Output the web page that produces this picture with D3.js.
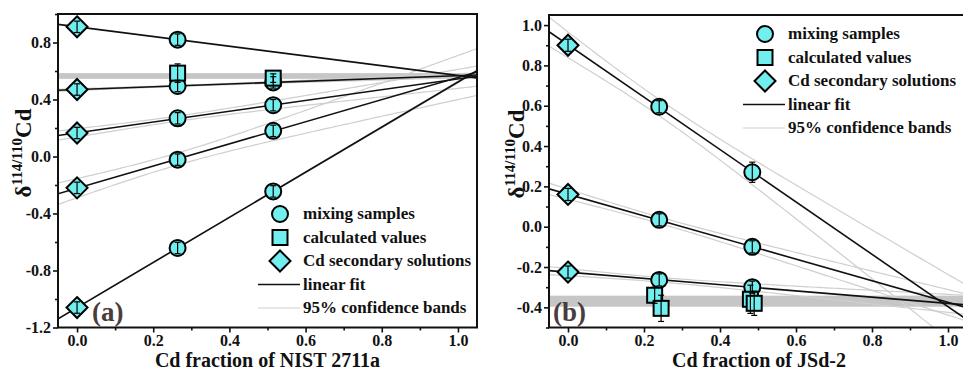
<!DOCTYPE html>
<html>
<head>
<meta charset="utf-8">
<script src="https://cdn.jsdelivr.net/npm/d3@7"></script>
<style>
  body { margin: 0; background: #fff; }
</style>
</head>
<body>
<script>
// ---- data ----
// panel (a): mixing with NIST 2711a
const fracA = [0, 0.264, 0.515];
const seriesA = [
  [0.91, 0.82, null],
  [0.47, 0.495, 0.52],
  [0.165, 0.268, 0.36],
  [-0.22, -0.022, 0.18],
  [-1.06, -0.642, -0.245]
];
const errA = 0.04;
const calcFracA = [0.264, 0.515];
const calcValA = [0.585, 0.55];
const calcErrA = [0.065, 0.03];
const refBandA = [0.545, 0.585];

// panel (b): mixing with JSd-2
const fracB = [0, 0.24, 0.485];
const seriesB = [
  [0.90, 0.595, 0.27],
  [0.16, 0.034, -0.10],
  [-0.225, -0.264, -0.30]
];
const errB = [
  [0.03, 0.03, 0.05],
  [0.03, 0.03, 0.03],
  [0.03, 0.03, 0.03]
];
const calcFracB = [0.228, 0.245, 0.48, 0.49];
const calcValB = [-0.34, -0.405, -0.36, -0.38];
const calcErrB = [0.04, 0.065, 0.07, 0.06];
const refBandB = [-0.397, -0.342];

const xTicks = [0, 0.2, 0.4, 0.6, 0.8, 1.0];
const xMinor = [0.1, 0.3, 0.5, 0.7, 0.9];
const yTicksA = [-1.2, -0.8, -0.4, 0, 0.4, 0.8];
const yMinorA = [-1.0, -0.6, -0.2, 0.2, 0.6, 1.0];
const yTicksB = [-0.4, -0.2, 0, 0.2, 0.4, 0.6, 0.8, 1.0];
const yMinorB = [-0.5, -0.3, -0.1, 0.1, 0.3, 0.5, 0.7, 0.9];

const legendLabels = ["mixing samples", "calculated values", "Cd secondary solutions", "linear fit", "95% confidence bands"];

const W = 963, H = 371;
const CYAN = "#72eeee";
const FONT = "'Liberation Serif', 'Times New Roman', serif";
const tTable = {1: 12.706, 2: 4.303, 3: 3.182};

const svg = d3.select("body").append("svg")
  .attr("width", W)
  .attr("height", H);

function txt(sel) {
  return sel.style("font-family", FONT).style("font-weight", "bold");
}

function fit(xs, ys) {
  const pts = xs.map((x, i) => [x, ys[i]]).filter(p => p[1] != null);
  const n = pts.length;
  const xbar = d3.mean(pts, p => p[0]);
  const ybar = d3.mean(pts, p => p[1]);
  const sxx = d3.sum(pts, p => (p[0] - xbar) ** 2);
  const sxy = d3.sum(pts, p => (p[0] - xbar) * (p[1] - ybar));
  const b = sxy / sxx;
  const a = ybar - b * xbar;
  const sse = d3.sum(pts, p => (p[1] - a - b * p[0]) ** 2);
  const s = n > 2 ? Math.sqrt(sse / (n - 2)) : 0;
  return { n, a, b, s, xbar, sxx };
}

function marker(g, shape, cx, cy) {
  if (shape === "circle") {
    g.append("circle").attr("cx", cx).attr("cy", cy).attr("r", 8);
  } else if (shape === "square") {
    g.append("rect").attr("x", cx - 7.5).attr("y", cy - 7.5).attr("width", 15).attr("height", 15);
  } else {
    g.append("path").attr("d", `M${cx},${cy - 10.5}L${cx + 10.5},${cy}L${cx},${cy + 10.5}L${cx - 10.5},${cy}Z`);
  }
}

function errBar(g, cx, y0, y1) {
  g.append("line").attr("x1", cx).attr("x2", cx).attr("y1", y0).attr("y2", y1);
  g.append("line").attr("x1", cx - 3).attr("x2", cx + 3).attr("y1", y0).attr("y2", y0);
  g.append("line").attr("x1", cx - 3).attr("x2", cx + 3).attr("y1", y1).attr("y2", y1);
}

function drawPanel(p) {
  const x = d3.scaleLinear().domain([-0.05, 1.05]).range([p.left, p.right]);
  const y = d3.scaleLinear().domain(p.yDomain).range([p.bottom, p.top]);

  const clipId = "clip-" + p.id;
  svg.append("clipPath").attr("id", clipId)
    .append("rect")
    .attr("x", p.left).attr("y", p.top)
    .attr("width", p.right - p.left).attr("height", p.bottom - p.top);

  const plot = svg.append("g").attr("clip-path", `url(#${clipId})`);

  // reference value band
  plot.append("rect")
    .attr("x", p.left).attr("width", p.right - p.left)
    .attr("y", y(p.refBand[1]))
    .attr("height", y(p.refBand[0]) - y(p.refBand[1]))
    .attr("fill", "#c6c6c6");

  const xs = d3.range(-0.05, 1.0501, 0.01);
  const line = d3.line().x(d => x(d[0])).y(d => y(d[1]));

  const fits = p.series.map(s => fit(p.frac, s));

  // 95% confidence bands
  fits.forEach(f => {
    if (f.n < 3) return;
    const t = tTable[f.n - 2];
    [1, -1].forEach(sign => {
      const pts = xs.map(xv => {
        const hw = t * f.s * Math.sqrt(1 / f.n + (xv - f.xbar) ** 2 / f.sxx);
        return [xv, f.a + f.b * xv + sign * hw];
      });
      plot.append("path").attr("d", line(pts))
        .attr("fill", "none").attr("stroke", "#cfcfcf").attr("stroke-width", 1.2);
    });
  });

  // linear fits
  fits.forEach(f => {
    plot.append("path")
      .attr("d", line([[-0.05, f.a - 0.05 * f.b], [1.05, f.a + 1.05 * f.b]]))
      .attr("fill", "none").attr("stroke", "#111").attr("stroke-width", 1.6);
  });

  // axes
  const gx = svg.append("g").attr("transform", `translate(0,${p.bottom})`);
  gx.call(d3.axisBottom(x).tickValues(xTicks).tickSize(5).tickFormat(d => d.toFixed(1)));
  const gxm = svg.append("g").attr("transform", `translate(0,${p.bottom})`);
  gxm.call(d3.axisBottom(x).tickValues(xMinor).tickSize(3).tickFormat(""));
  const gy = svg.append("g").attr("transform", `translate(${p.left},0)`);
  gy.call(d3.axisLeft(y).tickValues(p.yTicks).tickSize(5).tickFormat(d => d.toFixed(1)));
  const gym = svg.append("g").attr("transform", `translate(${p.left},0)`);
  gym.call(d3.axisLeft(y).tickValues(p.yMinor).tickSize(3).tickFormat(""));
  [gx, gxm, gy, gym].forEach(g => {
    g.attr("font-family", null);
    g.select(".domain").remove();
    g.selectAll(".tick line").attr("stroke", "#111").attr("stroke-width", 1.6);
    txt(g.selectAll(".tick text").attr("fill", "#111").style("font-size", "16px"));
  });
  gx.selectAll(".tick text").attr("dy", "0.71em").attr("y", 7);
  gy.selectAll(".tick text").attr("x", -7);

  svg.append("rect")
    .attr("x", p.left).attr("y", p.top)
    .attr("width", p.right - p.left).attr("height", p.bottom - p.top)
    .attr("fill", "none").attr("stroke", "#111").attr("stroke-width", 2);

  // markers
  const mk = svg.append("g").attr("fill", CYAN).attr("stroke", "#000").attr("stroke-width", 2);
  const eb = svg.append("g").attr("stroke", "#000").attr("stroke-width", 1.2);
  p.series.forEach((s, si) => {
    s.forEach((v, i) => {
      if (v == null) return;
      const e = Array.isArray(p.err) ? p.err[si][i] : p.err;
      marker(mk, i === 0 ? "diamond" : "circle", x(p.frac[i]), y(v));
      errBar(eb, x(p.frac[i]), y(v + e), y(v - e));
    });
  });
  p.calcFrac.forEach((f, i) => {
    marker(mk, "square", x(f), y(p.calcVal[i]));
    errBar(eb, x(f), y(p.calcVal[i] + p.calcErr[i]), y(p.calcVal[i] - p.calcErr[i]));
  });

  // panel letter
  txt(svg.append("text")
    .attr("x", p.letterX).attr("y", p.bottom - 7)
    .attr("fill", "#4a3c3c").style("font-size", "27px")
    .text(p.letter));

  // axis titles
  txt(svg.append("text")
    .attr("x", (p.left + Math.min(p.right, W)) / 2 + p.titleShift).attr("y", 367)
    .attr("text-anchor", "middle").attr("fill", "#111").style("font-size", "20px")
    .text(p.xTitle));

  const yt = txt(svg.append("text")
    .attr("transform", `translate(${p.yTitleX},${p.yTitleY}) rotate(-90)`)
    .attr("text-anchor", "middle").attr("fill", "#111").style("font-size", "23px"));
  yt.append("tspan").text("δ");
  yt.append("tspan").attr("dy", -9).style("font-size", "15px").text("114/110");
  yt.append("tspan").attr("dy", 9).text("Cd");

  // legend
  const lg = svg.append("g");
  const lgMk = lg.append("g").attr("fill", CYAN).attr("stroke", "#000").attr("stroke-width", 2);
  const shapes = ["circle", "square", "diamond"];
  legendLabels.forEach((lab, i) => {
    const ly = p.legY + i * 23.5;
    if (i < 3) {
      marker(lgMk, shapes[i], p.legX, ly);
    } else {
      lg.append("line")
        .attr("x1", p.legX - 22).attr("x2", p.legX + 20)
        .attr("y1", ly).attr("y2", ly)
        .attr("stroke", i === 3 ? "#111" : "#cfcfcf").attr("stroke-width", i === 3 ? 1.6 : 1.2);
    }
    txt(lg.append("text")
      .attr("x", p.legX + 23).attr("y", ly + 5)
      .attr("fill", "#111").style("font-size", "17px")
      .text(lab));
  });
}

drawPanel({
  id: "a", left: 58, right: 477, top: 14, bottom: 327.5,
  yDomain: [-1.2, 1.0], yTicks: yTicksA, yMinor: yMinorA,
  frac: fracA, series: seriesA, err: errA,
  calcFrac: calcFracA, calcVal: calcValA, calcErr: calcErrA,
  refBand: refBandA,
  letter: "(a)", letterX: 92,
  xTitle: "Cd fraction of NIST 2711a", titleShift: 0,
  yTitleX: 31, yTitleY: 153,
  legX: 280, legY: 214
});

drawPanel({
  id: "b", left: 549, right: 967, top: 15, bottom: 327.5,
  yDomain: [-0.5, 1.05], yTicks: yTicksB, yMinor: yMinorB,
  frac: fracB, series: seriesB, err: errB,
  calcFrac: calcFracB, calcVal: calcValB, calcErr: calcErrB,
  refBand: refBandB,
  letter: "(b)", letterX: 553,
  xTitle: "Cd fraction of JSd-2", titleShift: 3,
  yTitleX: 524, yTitleY: 154,
  legX: 765, legY: 34
});
</script>
</body>
</html>
